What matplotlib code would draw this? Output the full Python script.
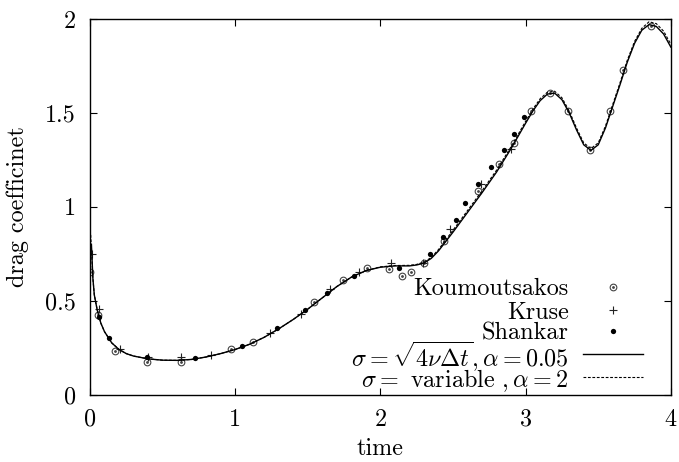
import numpy as np
import matplotlib
matplotlib.use("Agg")
import matplotlib.pyplot as plt
from matplotlib.lines import Line2D

plt.rcParams['font.family'] = 'serif'
plt.rcParams['font.serif'] = ['cmr10']
plt.rcParams['mathtext.fontset'] = 'cm'
plt.rcParams['axes.unicode_minus'] = False

# Koumoutsakos (open circles)
kou_t = [0.0, 0.055, 0.17, 0.39, 0.63, 0.97, 1.12, 1.54, 1.74, 1.91, 2.06, 2.15, 2.21,
         2.30, 2.44, 2.67, 2.82, 2.92, 3.04, 3.17, 3.29, 3.44, 3.58, 3.67, 3.86]
kou_cd = [0.65, 0.425, 0.23, 0.175, 0.175, 0.24, 0.28, 0.495, 0.61, 0.675, 0.67, 0.63, 0.65,
          0.70, 0.82, 1.085, 1.23, 1.34, 1.51, 1.605, 1.51, 1.30, 1.51, 1.73, 1.96]

# Kruse (+)
kru_t = [0.014, 0.06, 0.21, 0.40, 0.63, 0.83, 1.24, 1.45, 1.65, 1.85, 2.07, 2.29, 2.48, 2.69, 2.90]
kru_cd = [0.75, 0.455, 0.24, 0.20, 0.20, 0.21, 0.33, 0.43, 0.56, 0.65, 0.70, 0.70, 0.88, 1.12, 1.31]

# Shankar (filled dots)
sha_t = [0.06, 0.13, 0.39, 0.72, 1.05, 1.29, 1.48, 1.63, 1.82, 2.13, 2.34, 2.43, 2.52,
         2.58, 2.67, 2.76, 2.85, 2.92, 2.99]
sha_cd = [0.415, 0.30, 0.20, 0.195, 0.26, 0.355, 0.45, 0.54, 0.63, 0.675, 0.75, 0.84, 0.93,
          1.02, 1.12, 1.21, 1.30, 1.39, 1.48]

# sigma = sqrt(4 nu dt), alpha = 0.05 (solid)
sol_t = [0.01, 0.02, 0.03, 0.05, 0.075, 0.1, 0.15, 0.2, 0.25, 0.3, 0.4, 0.5, 0.6, 0.7, 0.8,
         0.9, 1.0, 1.1, 1.2, 1.3, 1.4, 1.5, 1.6, 1.7, 1.8, 1.9, 2.0, 2.1, 2.2, 2.25, 2.3,
         2.35, 2.4, 2.5, 2.6, 2.7, 2.8, 2.9, 3.0, 3.05, 3.1, 3.15, 3.2, 3.25, 3.3, 3.35,
         3.4, 3.45, 3.5, 3.55, 3.6, 3.65, 3.7, 3.75, 3.8, 3.85, 3.9, 3.95, 4.0]
sol_cd = [0.80, 0.62, 0.53, 0.45, 0.38, 0.335, 0.275, 0.24, 0.218, 0.205, 0.19, 0.183, 0.182,
          0.187, 0.20, 0.218, 0.24, 0.268, 0.305, 0.35, 0.40, 0.455, 0.515, 0.575, 0.625,
          0.66, 0.678, 0.685, 0.685, 0.69, 0.70, 0.725, 0.765, 0.865, 0.97, 1.075, 1.185,
          1.31, 1.445, 1.51, 1.565, 1.60, 1.605, 1.57, 1.50, 1.41, 1.33, 1.30, 1.33, 1.42,
          1.535, 1.65, 1.77, 1.87, 1.94, 1.97, 1.96, 1.92, 1.85]

# sigma = variable, alpha = 2 (dashed)
das_t = [0.005, 0.01, 0.02, 0.03, 0.05, 0.075, 0.1, 0.15, 0.2, 0.25, 0.3, 0.4, 0.5, 0.6, 0.7,
         0.8, 0.9, 1.0, 1.1, 1.2, 1.3, 1.4, 1.5, 1.6, 1.7, 1.8, 1.9, 2.0, 2.1, 2.2, 2.25,
         2.3, 2.35, 2.4, 2.5, 2.6, 2.7, 2.8, 2.9, 3.0, 3.05, 3.1, 3.15, 3.2, 3.25, 3.3,
         3.35, 3.4, 3.45, 3.5, 3.55, 3.6, 3.65, 3.7, 3.75, 3.8, 3.85, 3.9, 3.95, 4.0]
das_cd = [0.85, 0.78, 0.62, 0.53, 0.45, 0.38, 0.335, 0.275, 0.24, 0.218, 0.205, 0.19, 0.183,
          0.182, 0.187, 0.20, 0.218, 0.24, 0.268, 0.305, 0.35, 0.40, 0.455, 0.515, 0.575,
          0.625, 0.66, 0.68, 0.687, 0.688, 0.693, 0.705, 0.73, 0.772, 0.875, 0.98, 1.085,
          1.195, 1.32, 1.455, 1.52, 1.575, 1.61, 1.615, 1.58, 1.51, 1.42, 1.34, 1.31, 1.34,
          1.43, 1.545, 1.66, 1.78, 1.88, 1.95, 1.985, 1.975, 1.935, 1.865]

labels = ['Koumoutsakos', 'Kruse', 'Shankar',
          r'$\sigma = \sqrt{4\nu\Delta t}, \alpha = 0.05$',
          r'$\sigma =$ variable $, \alpha = 2$']

fs = 17.4

fig = plt.figure(figsize=(6.79, 4.62), dpi=100)
ax = fig.add_axes([0.1325, 0.146, 0.8555, 0.813])

kou_style = dict(linestyle='none', marker='o', markersize=4.8, mfc='none',
                 mec='#444444', mew=0.8)
dot_style = dict(linestyle='none', marker='o', markersize=1.0, color='#444444')
kru_style = dict(linestyle='none', marker='+', markersize=6, color='#222222', mew=0.8)
sha_style = dict(linestyle='none', marker='o', markersize=3.8, color='black', mew=0)
sol_style = dict(color='black', lw=1.0)
das_style = dict(color='black', lw=0.8, dashes=(2.5, 1.5))

ax.plot(kou_t, kou_cd, **kou_style)
ax.plot(kou_t, kou_cd, **dot_style)
ax.plot(kru_t, kru_cd, **kru_style)
ax.plot(sha_t, sha_cd, **sha_style)
ax.plot(sol_t, sol_cd, **sol_style)
ax.plot(das_t, das_cd, **das_style)

ax.set_xlim(0, 4)
ax.set_ylim(0, 2)
ax.set_xticks([0, 1, 2, 3, 4])
ax.set_xticklabels(['0', '1', '2', '3', '4'])
ax.set_yticks([0, 0.5, 1, 1.5, 2])
ax.set_yticklabels(['0', '0.5', '1', '1.5', '2'])
ax.tick_params(direction='in', top=True, right=True, length=5, width=0.8,
               labelsize=fs, pad=10)
for s in ax.spines.values():
    s.set_linewidth(1.0)

ax.set_xlabel('time', fontsize=fs, labelpad=5)
ax.set_ylabel('drag coefficinet', fontsize=fs, labelpad=12)

# gnuplot-style key: labels right-aligned, sample to the right
T = ax.transAxes
row_y = [0.287, 0.225, 0.169, 0.108, 0.047]   # axes fraction, centre of sample
txt_x, mk_x, ln_x0, ln_x1 = 0.824, 0.900, 0.849, 0.952
for i, lab in enumerate(labels):
    ax.text(txt_x, row_y[i], lab, transform=T, ha='right', va='center_baseline',
            fontsize=fs)
ax.add_line(Line2D([mk_x], [row_y[0]], transform=T, **kou_style))
ax.add_line(Line2D([mk_x], [row_y[0]], transform=T, **dot_style))
ax.add_line(Line2D([mk_x], [row_y[1]], transform=T, **kru_style))
ax.add_line(Line2D([mk_x], [row_y[2]], transform=T, **sha_style))
ax.add_line(Line2D([ln_x0, ln_x1], [row_y[3]] * 2, transform=T, **sol_style))
ax.add_line(Line2D([ln_x0, ln_x1], [row_y[4]] * 2, transform=T, **das_style))

fig.savefig('out.png', dpi=100)
